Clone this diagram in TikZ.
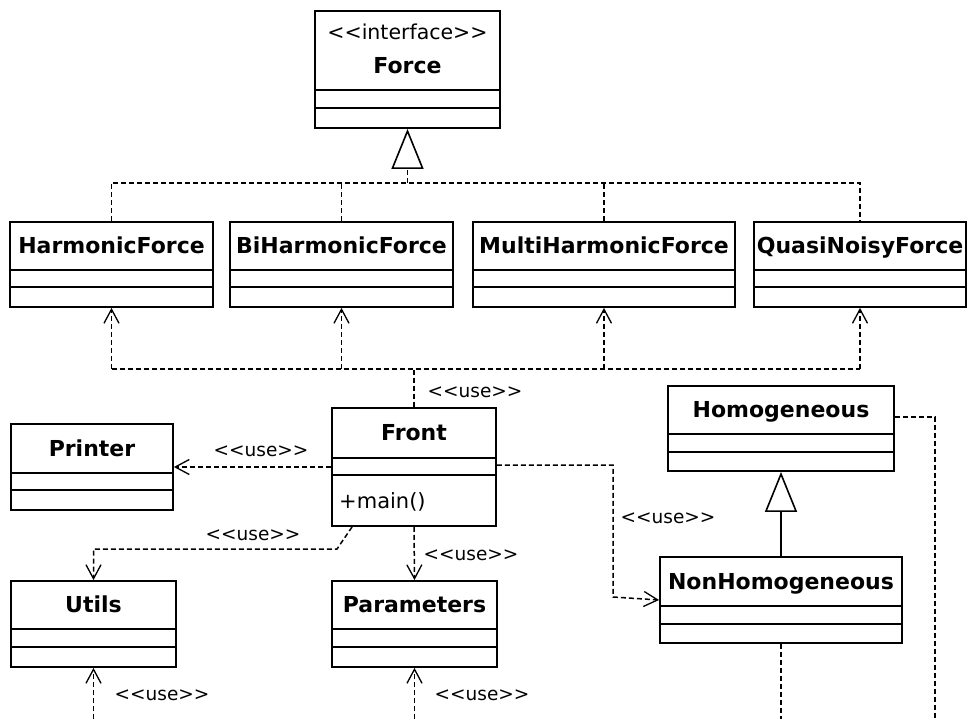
\documentclass[tikz,border=0pt]{standalone}
\usepackage{fontspec}
\setmainfont{DejaVu Sans}
\usetikzlibrary{arrows.meta}
\newcommand\usetxt{<\kern0pt<use>\kern0pt>}
\tikzset{
 clsbox/.style={draw, line width=1.8pt, inner sep=0pt, fill=white},
 divline/.style={line width=1.8pt},
 clsname/.style={font=\fontsize{22}{24}\selectfont\bfseries, inner sep=0pt, anchor=base},
 lbl/.style={font=\fontsize{18.5}{20}\selectfont, inner sep=0pt},
 dep/.style={line width=1.5pt, dash pattern=on 5pt off 3pt},
 usearrow/.style={-{Straight Barb[length=14pt,width=15pt,line width=1.3pt]}},
 genarrow/.style={-{Triangle[open,length=40pt,width=32pt,line width=1.6pt]}},
}
% #1 name, #2 left, #3 top, #4 right, #5 divider 1, #6 divider 2, #7 bottom, #8 title
\newcommand\umlcls[8]{%
 \node[clsbox, minimum width={(#4-#2)*1pt}, minimum height={(#7-#3)*1pt}] (#1) at ({(#2+#4)/2},{(#3+#7)/2}) {};
 \draw[divline] (#2,#5) -- (#4,#5) (#2,#6) -- (#4,#6);
 \node[clsname] (#1-name) at ({(#2+#4)/2},{(#3+#5)/2+7.5}) {#8};
}
\begin{document}
\begin{tikzpicture}[x=1pt,y=-1pt]
\fill[white] (0,0) rectangle (967,719);
\useasboundingbox (0,0) rectangle (967,719);

\umlcls{force}{315}{11}{500}{90}{108}{128}{}
\node[lbl, anchor=base, font=\fontsize{20.5}{22}\selectfont] (force-st) at (407.5,40) {<\kern0pt<interface>\kern0pt>};
\node[clsname] (force-nm) at (407.5,74) {Force};

\umlcls{hf}{10}{222}{213}{270}{287}{307}{HarmonicForce}
\umlcls{bhf}{230}{222}{453}{270}{287}{307}{BiHarmonicForce}
\umlcls{mhf}{473}{222}{735}{270}{287}{307}{MultiHarmonicForce}
\umlcls{qnf}{754}{222}{966}{270}{287}{307}{QuasiNoisyForce}

\umlcls{front}{332}{408}{496}{458}{475}{526}{Front}
\node[lbl, anchor=base west, font=\fontsize{21}{24}\selectfont] (front-op) at (339,508) {+main()};
\umlcls{printer}{11}{424}{173}{473}{490}{510}{Printer}
\umlcls{utils}{11}{581}{176}{629}{647}{667}{Utils}
\umlcls{params}{332}{581}{497}{629}{647}{667}{Parameters}
\umlcls{hom}{668}{386}{894}{434}{452}{471}{Homogeneous}
\umlcls{nonhom}{660}{557}{902}{606}{624}{643}{NonHomogeneous}

% generalization to Force
\coordinate (glev) at (0,183);
\draw[dep,genarrow] (force.south |- glev) -- (force.south);
\draw[dep] (hf.north) -- (hf.north |- glev) -- (qnf.north |- glev) -- (qnf.north);
\draw[dep] (bhf.north) -- (bhf.north |- glev);
\draw[dep] (mhf.north) -- (mhf.north |- glev);

% Front uses forces
\coordinate (ulev) at (0,369);
\draw[dep] (front.north) -- (front.north |- ulev);
\draw[dep] (hf.south |- ulev) -- (qnf.south |- ulev);
\draw[dep,usearrow] (hf.south |- ulev) -- (hf.south);
\draw[dep,usearrow] (bhf.south |- ulev) -- (bhf.south);
\draw[dep,usearrow] (mhf.south |- ulev) -- (mhf.south);
\draw[dep,usearrow] (qnf.south |- ulev) -- (qnf.south);
\node[lbl] (l-forces) at (475,392) {\usetxt};

% Front uses Printer
\draw[dep,usearrow] (front.west) -- (printer.east);
\node[lbl] (l-printer) at (261,451) {\usetxt};

% Front uses Utils
\coordinate (u1) at (337,549);
\draw[dep,usearrow] ([xshift=21pt]front.south west) -- (u1) -- (utils.north |- u1) -- (utils.north);
\node[lbl] (l-utils) at (253,535) {\usetxt};

% Front uses Parameters
\draw[dep,usearrow] (front.south) -- (params.north);
\node[lbl] (l-params) at (471,555) {\usetxt};

% Front uses NonHomogeneous
\coordinate (n1) at (613,465);
\coordinate (n2) at (613,597);
\draw[dep,usearrow] ([yshift=2pt]front.east) -- (n1) -- (n2) -- (nonhom.west);
\node[lbl] (l-nonhom) at (668,518) {\usetxt};

% bottom usages
\coordinate (bot) at (0,719);
\draw[dep,usearrow] (utils.south |- bot) -- (utils.south);
\node[lbl] (l-utilsb) at (162,695) {\usetxt};
\draw[dep,usearrow] (params.south |- bot) -- (params.south);
\node[lbl] (l-paramsb) at (482,695) {\usetxt};
\draw[dep] (nonhom.south) -- (nonhom.south |- bot);
\coordinate (hr) at (935,719);
\draw[dep] ([yshift=11.5pt]hom.east) -| (hr);

% generalization NonHomogeneous -> Homogeneous
\draw[line width=1.6pt,genarrow] (nonhom.north) -- (hom.south);
\end{tikzpicture}
\end{document}
